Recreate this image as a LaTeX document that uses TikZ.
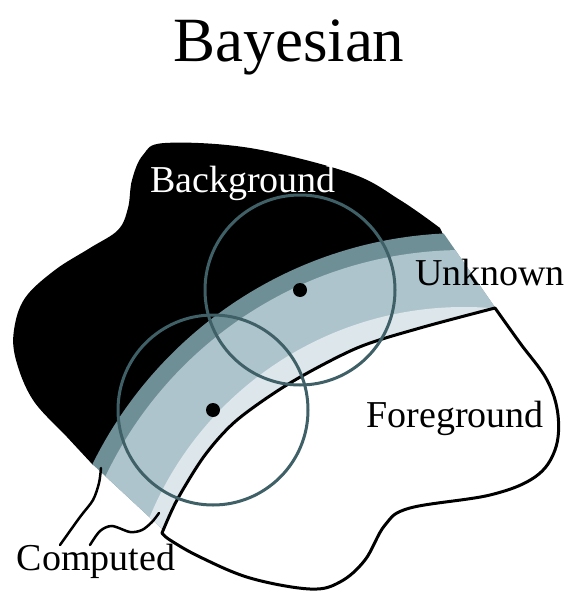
\documentclass[tikz,border=0pt]{standalone}
\usepackage{fontspec}
\setmainfont{Liberation Serif}
\usetikzlibrary{calc}
\definecolor{bandedge}{HTML}{6F8F97}
\definecolor{bandmid}{HTML}{AEC4CC}
\definecolor{bandlow}{HTML}{DCE6EB}
\definecolor{probeline}{HTML}{3F6067}

\begin{document}
\begin{tikzpicture}[
  x=1pt, y=-1pt,
  lbl/.style={anchor=base, inner sep=0pt, font=\fontsize{38}{40}\selectfont},
  probecircle/.style={draw=probeline, line width=3pt},
  outline/.style={draw=black, line width=3pt, line join=round},
  leader/.style={black, line width=2.5pt, line cap=round}
]
\useasboundingbox (0,0) rectangle (571,591);

% background region
\fill[black] plot[smooth, tension=0.6] coordinates {(93,465) (67,437) (33,400) (16,360)
  (14,330) (25,298) (55,270) (90,248) (118,230) (128,208) (132,180) (143,155)
  (165,143) (250,148) (350,173) (400,200) (440,228)}
  -- (455,260) -- (300,300) -- (200,380) -- (120,470) -- cycle;

% unknown band
\coordinate (ctr) at (464,647);
\begin{scope}
  \clip (33,409) -- (187,552) -- (517,339) -- (410,185) -- cycle;
  \fill[bandedge] (ctr) circle (414);
  \fill[bandmid] (ctr) circle (397);
  \fill[bandlow] (ctr) circle (340);
  \fill[white] (ctr) circle (315);
\end{scope}

% foreground region
\draw[outline, fill=white] (162,533) -- plot[smooth, tension=0.5] coordinates {(162,533)
  (177,500) (205,455) (237,420) (290,383) (357,348) (420,328) (495,308)}
  -- plot[smooth, tension=0.6] coordinates {(495,308) (520,343) (547,380) (558,415)
  (555,450) (535,477) (490,495) (410,508) (385,525) (365,560) (340,582) (310,589)
  (250,578) (200,557) (170,540) (162,533)} -- cycle;

% probe windows
\coordinate (p1) at (300,290);
\coordinate (p2) at (213,410);
\draw[probecircle] (p1) circle (95);
\draw[probecircle] (p2) circle (95);
\fill[black] (p1) circle (7);
\fill[black] (p2) circle (7);

% labels
\node[lbl, font=\fontsize{63}{70}\selectfont] (title) at (289,62) {Bayesian};
\node[lbl, text=white] (bg) at (243,192) {Background};
\node[lbl] (unk) at (490,285) {Unknown};
\node[lbl] (fg) at (455,427) {Foreground};
\node[lbl] (comp) at (96,570) {Computed};

% computed leaders
\draw[leader] plot[smooth] coordinates {(60,545) (80,517) (93,500) (99,483) (101,468)};
\draw[leader] plot[smooth] coordinates {(90,545) (100,531) (112,526) (130,532) (142,530)
  (152,522) (159,513)};
\end{tikzpicture}
\end{document}
